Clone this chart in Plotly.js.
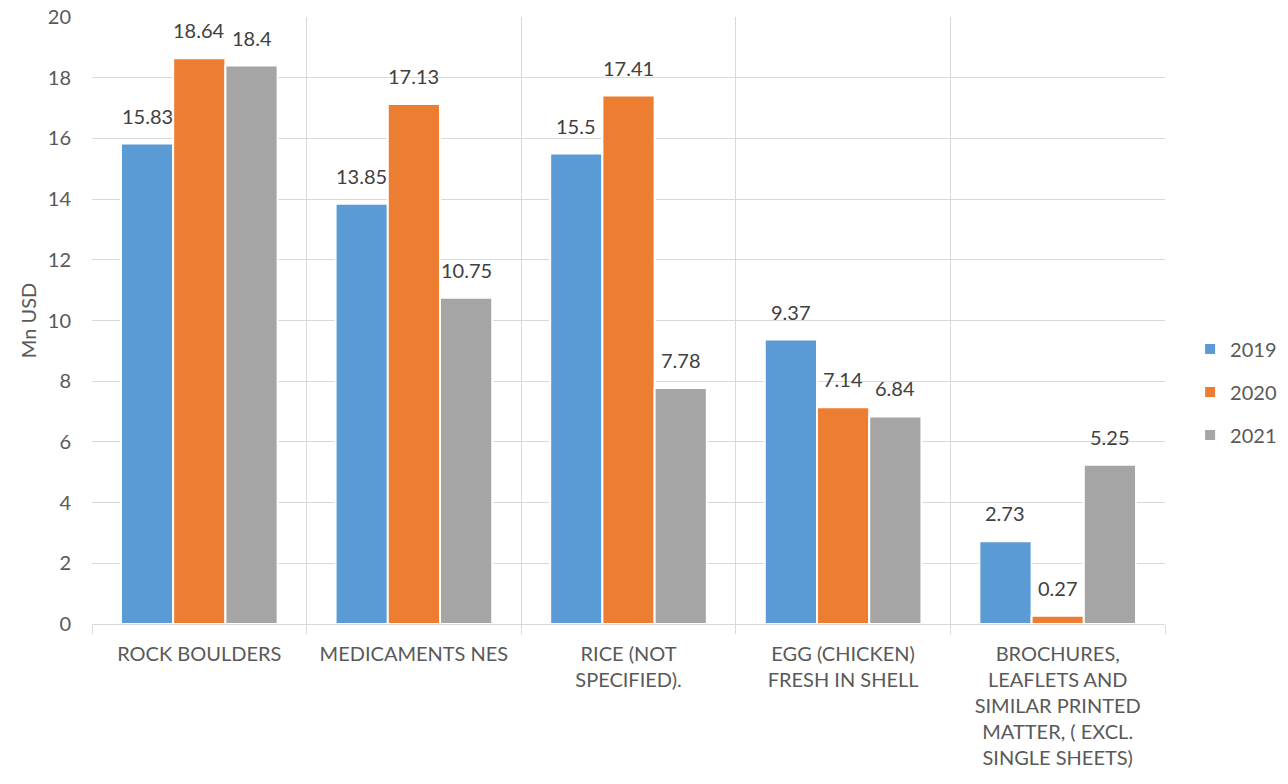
<!DOCTYPE html>
<html>
<head>
<meta charset="utf-8">
<script src="https://cdn.plot.ly/plotly-3.0.1.min.js"></script>
<style>html,body{margin:0;padding:0;background:#fff;}#chart{width:1288px;height:784px;}</style>
</head>
<body>
<div id="chart"></div>
<script>
const categories = [
  "ROCK BOULDERS",
  "MEDICAMENTS NES",
  "RICE (NOT<br>SPECIFIED).",
  "EGG (CHICKEN)<br>FRESH IN SHELL",
  "BROCHURES,<br>LEAFLETS AND<br>SIMILAR PRINTED<br>MATTER, ( EXCL.<br>SINGLE SHEETS)"
];
const seriesNames = ["2019", "2020", "2021"];
const values2019 = [15.83, 13.85, 15.5, 9.37, 2.73];
const values2020 = [18.64, 17.13, 17.41, 7.14, 0.27];
const values2021 = [18.4, 10.75, 7.78, 6.84, 5.25];
const colors = ["#5b9bd5", "#ed7d31", "#a5a5a5"];
const yTicks = [0, 2, 4, 6, 8, 10, 12, 14, 16, 18, 20];

const allValues = [values2019, values2020, values2021];
const FONT = "Lato, 'Liberation Sans', sans-serif";

const margin = {l: 92, r: 123, t: 17, b: 160};
const W = 1288, H = 784;
const bargap = 0.27;
const plotW = W - margin.l - margin.r;
const slot = plotW / categories.length * (1 - bargap) / allValues.length;

const traces = allValues.map((vals, i) => ({
  type: "bar",
  name: seriesNames[i],
  x: categories,
  y: vals,
  marker: {color: colors[i], line: {color: "#ffffff", width: 2}},
  legendgroup: "g" + i,
  hoverinfo: "skip"
}));

const annotations = [];
allValues.forEach((vals, i) => {
  vals.forEach((v, j) => {
    annotations.push({
      x: categories[j], y: v, xref: "x", yref: "y",
      text: String(v), showarrow: false,
      xanchor: "center", yanchor: "bottom",
      xshift: (i - (allValues.length - 1) / 2) * slot,
      yshift: 14,
      font: {family: FONT, size: 20, color: "#404040"}
    });
  });
});

const layout = {
  width: W, height: H,
  margin: margin,
  paper_bgcolor: "#ffffff",
  plot_bgcolor: "#ffffff",
  barmode: "group",
  bargap: bargap,
  bargroupgap: 0,
  font: {family: FONT, size: 20, color: "#595959"},
  showlegend: true,
  legend: {
    xref: "container", yref: "container",
    x: 0.924, xanchor: "left", y: 0.5, yanchor: "middle",
    font: {family: FONT, size: 20, color: "#595959"},
    traceorder: "grouped", tracegroupgap: 14,
    itemwidth: 30
  },
  xaxis: {
    type: "category",
    tickson: "boundaries",
    ticks: "outside", ticklen: 9, tickcolor: "#d9d9d9", tickwidth: 1,
    ticklabelstandoff: 12,
    showgrid: true, gridcolor: "#d9d9d9", gridwidth: 1,
    showline: true, linecolor: "#d9d9d9", linewidth: 1,
    mirror: false,
    tickfont: {family: FONT, size: 20, color: "#595959"},
    automargin: false
  },
  yaxis: {
    range: [0, 20],
    tickvals: yTicks,
    ticktext: yTicks.map(String),
    showgrid: true, gridcolor: "#d9d9d9", gridwidth: 1,
    zeroline: true, zerolinecolor: "#d9d9d9", zerolinewidth: 1,
    showline: false,
    ticks: "", ticklabelstandoff: 20,
    tickfont: {family: FONT, size: 20, color: "#595959"},
    title: {text: "Mn USD", font: {family: FONT, size: 20, color: "#595959"}, standoff: 5},
    automargin: false
  },
  annotations: annotations
};

Plotly.newPlot("chart", traces, layout, {displayModeBar: false, staticPlot: true});
</script>
</body>
</html>
